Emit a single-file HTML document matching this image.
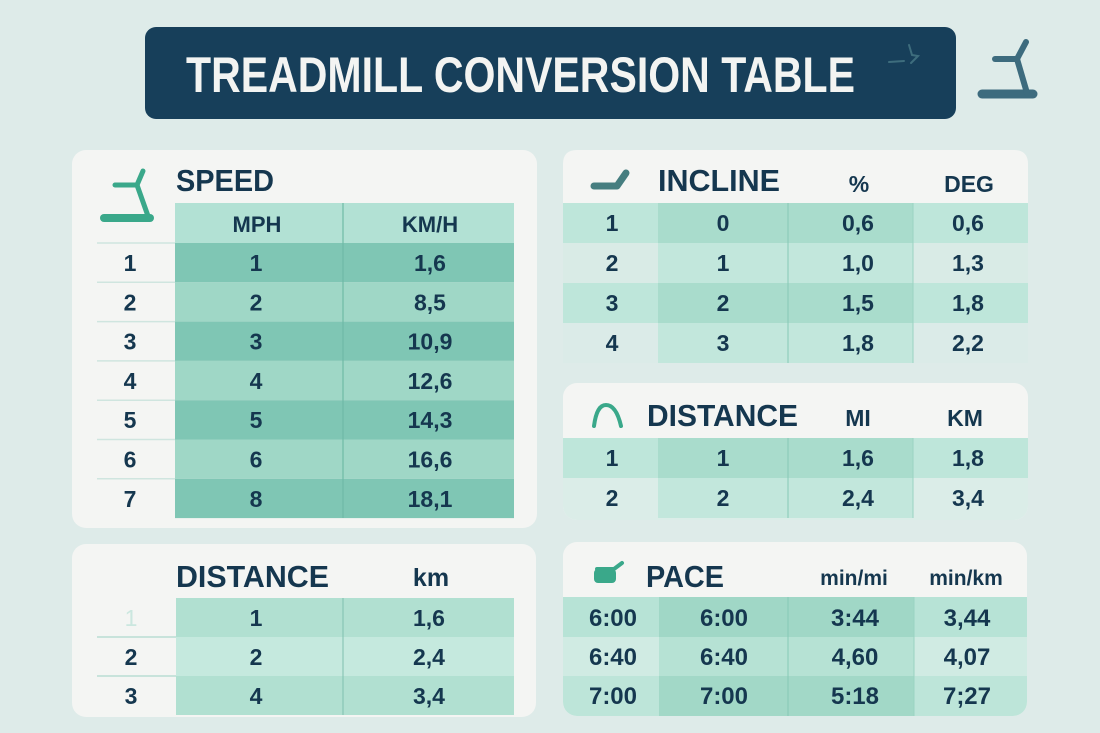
<!DOCTYPE html>
<html><head><meta charset="utf-8"><style>
html,body{margin:0;padding:0;background:#deebe9;}
svg{display:block;}
text{font-family:"Liberation Sans",sans-serif;font-weight:bold;fill:#15374f;}
.c{text-anchor:middle;}
.d{font-size:23px;}
</style></head><body>
<svg width="1100" height="733" viewBox="0 0 1100 733" xmlns="http://www.w3.org/2000/svg">
<defs>
<clipPath id="cpDist"><rect x="563" y="383" width="465" height="137" rx="14"/></clipPath>
<clipPath id="cpPace"><rect x="563" y="542" width="464" height="174" rx="14"/></clipPath>
</defs>
<rect width="1100" height="733" fill="#deebe9"/>

<!-- Title banner -->
<rect x="145" y="27" width="811" height="92" rx="11" fill="#173f5a"/>
<text x="186" y="92" font-size="50" textLength="669" lengthAdjust="spacingAndGlyphs" style="fill:#f3f4f2">TREADMILL CONVERSION TABLE</text>
<g stroke="#3e6d7d" stroke-width="2" fill="none" stroke-linecap="round">
<line x1="889" y1="62" x2="904" y2="61"/>
<path d="M909 45 L912 55 L918 56 L911 63"/>
</g>
<g stroke="#3d6b7e" stroke-width="6" fill="none" stroke-linecap="round">
<line x1="982" y1="94" x2="1033" y2="94" stroke-width="9"/>
<line x1="1017" y1="59" x2="1027" y2="93"/>
<line x1="995" y1="59" x2="1017" y2="59"/>
<line x1="1017" y1="59" x2="1026" y2="42"/>
</g>

<!-- SPEED card -->
<rect x="72" y="150" width="465" height="378" rx="14" fill="#f4f5f3"/>
<g stroke="#3aa88a" stroke-width="5" fill="none" stroke-linecap="round">
<line x1="104" y1="218" x2="150" y2="218" stroke-width="8"/>
<line x1="137" y1="185" x2="148" y2="216"/>
<line x1="115" y1="185" x2="137" y2="185"/>
<line x1="137" y1="185" x2="143" y2="171"/>
</g>
<text x="176" y="191" font-size="31" textLength="98" lengthAdjust="spacingAndGlyphs">SPEED</text>
<rect x="175" y="203" width="339" height="40" fill="#b2e1d4"/>
<rect x="175" y="243" width="339" height="39.3" fill="#7fc6b4"/>
<rect x="175" y="282.3" width="339" height="39.3" fill="#9fd7c6"/>
<rect x="175" y="321.6" width="339" height="39.3" fill="#7fc6b4"/>
<rect x="175" y="360.9" width="339" height="39.3" fill="#9fd7c6"/>
<rect x="175" y="400.2" width="339" height="39.3" fill="#7fc6b4"/>
<rect x="175" y="439.5" width="339" height="39.3" fill="#9fd7c6"/>
<rect x="175" y="478.8" width="339" height="39.3" fill="#7fc6b4"/>
<line x1="343" y1="203" x2="343" y2="518" stroke="#6fbaa6" stroke-width="1.2"/>
<g stroke="#cfe5df" stroke-width="1.5">
<line x1="97" y1="243" x2="175" y2="243"/>
<line x1="97" y1="282.3" x2="175" y2="282.3"/>
<line x1="97" y1="321.6" x2="175" y2="321.6"/>
<line x1="97" y1="360.9" x2="175" y2="360.9"/>
<line x1="97" y1="400.2" x2="175" y2="400.2"/>
<line x1="97" y1="439.5" x2="175" y2="439.5"/>
<line x1="97" y1="478.8" x2="175" y2="478.8"/>
</g>
<text class="c" x="257" y="232" font-size="22">MPH</text>
<text class="c" x="430" y="232" font-size="22">KM/H</text>
<text class="c d" x="130" y="271">1</text><text class="c d" x="256" y="271">1</text><text class="c d" x="430" y="271">1,6</text>
<text class="c d" x="130" y="310.3">2</text><text class="c d" x="256" y="310.3">2</text><text class="c d" x="430" y="310.3">8,5</text>
<text class="c d" x="130" y="349.6">3</text><text class="c d" x="256" y="349.6">3</text><text class="c d" x="430" y="349.6">10,9</text>
<text class="c d" x="130" y="388.9">4</text><text class="c d" x="256" y="388.9">4</text><text class="c d" x="430" y="388.9">12,6</text>
<text class="c d" x="130" y="428.2">5</text><text class="c d" x="256" y="428.2">5</text><text class="c d" x="430" y="428.2">14,3</text>
<text class="c d" x="130" y="467.5">6</text><text class="c d" x="256" y="467.5">6</text><text class="c d" x="430" y="467.5">16,6</text>
<text class="c d" x="130" y="506.8">7</text><text class="c d" x="256" y="506.8">8</text><text class="c d" x="430" y="506.8">18,1</text>

<!-- INCLINE card -->
<path d="M563 203 L563 164 Q563 150 577 150 L1014 150 Q1028 150 1028 164 L1028 203 Z" fill="#f4f5f3"/>
<g stroke="#467e80" stroke-width="7" fill="none" stroke-linecap="round" stroke-linejoin="round">
<path d="M594 186 L617 186 L626 173"/>
</g>
<text x="658" y="191" font-size="31" textLength="122" lengthAdjust="spacingAndGlyphs">INCLINE</text>
<text class="c" x="859" y="192" font-size="23">%</text>
<text class="c" x="969" y="192" font-size="23">DEG</text>
<rect x="563" y="203" width="465" height="40" fill="#bee6da"/>
<rect x="658" y="203" width="255" height="40" fill="#a9dccc"/>
<rect x="563" y="243" width="465" height="40" fill="#d9ebe6"/>
<rect x="658" y="243" width="255" height="40" fill="#c2e7dc"/>
<rect x="563" y="283" width="465" height="40" fill="#bee6da"/>
<rect x="658" y="283" width="255" height="40" fill="#a9dccc"/>
<rect x="563" y="323" width="465" height="40" fill="#dbebe8"/>
<rect x="658" y="323" width="255" height="40" fill="#c2e7dc"/>
<line x1="788" y1="203" x2="788" y2="363" stroke="#86c9b6" stroke-width="1"/>
<line x1="913" y1="203" x2="913" y2="363" stroke="#9ad3c2" stroke-width="1"/>
<text class="c d" x="612" y="231">1</text><text class="c d" x="723" y="231">0</text><text class="c d" x="858" y="231">0,6</text><text class="c d" x="968" y="231">0,6</text>
<text class="c d" x="612" y="271">2</text><text class="c d" x="723" y="271">1</text><text class="c d" x="858" y="271">1,0</text><text class="c d" x="968" y="271">1,3</text>
<text class="c d" x="612" y="311">3</text><text class="c d" x="723" y="311">2</text><text class="c d" x="858" y="311">1,5</text><text class="c d" x="968" y="311">1,8</text>
<text class="c d" x="612" y="351">4</text><text class="c d" x="723" y="351">3</text><text class="c d" x="858" y="351">1,8</text><text class="c d" x="968" y="351">2,2</text>

<!-- DISTANCE (right) card -->
<g clip-path="url(#cpDist)">
<rect x="563" y="383" width="465" height="137" fill="#f4f5f3"/>
<rect x="563" y="438" width="465" height="40" fill="#bee6da"/>
<rect x="658" y="438" width="255" height="40" fill="#a9dccc"/>
<rect x="563" y="478" width="465" height="42" fill="#dbede8"/>
<rect x="658" y="478" width="255" height="40" fill="#c2e7dc"/>
</g>
<line x1="788" y1="438" x2="788" y2="518" stroke="#86c9b6" stroke-width="1"/>
<line x1="913" y1="438" x2="913" y2="518" stroke="#9ad3c2" stroke-width="1"/>
<path d="M594 426 C596 411 600 405 606 405 C613 405 618 413 621 426" stroke="#3aa88a" stroke-width="4" fill="none" stroke-linecap="round"/>
<text x="647" y="426" font-size="31" textLength="151" lengthAdjust="spacingAndGlyphs">DISTANCE</text>
<text class="c" x="858" y="426" font-size="23">MI</text>
<text class="c" x="965" y="426" font-size="23">KM</text>
<text class="c d" x="612" y="466">1</text><text class="c d" x="723" y="466">1</text><text class="c d" x="858" y="466">1,6</text><text class="c d" x="968" y="466">1,8</text>
<text class="c d" x="612" y="506">2</text><text class="c d" x="723" y="506">2</text><text class="c d" x="858" y="506">2,4</text><text class="c d" x="968" y="506">3,4</text>

<!-- DISTANCE (bottom-left) card -->
<rect x="72" y="544" width="464" height="173" rx="14" fill="#f4f5f3"/>
<text x="176" y="587" font-size="31" textLength="153" lengthAdjust="spacingAndGlyphs">DISTANCE</text>
<text class="c" x="431" y="586" font-size="25">km</text>
<rect x="176" y="598" width="338" height="39" fill="#b1e0d1"/>
<rect x="176" y="637" width="338" height="39" fill="#c5e9de"/>
<rect x="176" y="676" width="338" height="39" fill="#b1e0d1"/>
<line x1="343" y1="598" x2="343" y2="715" stroke="#7fbfae" stroke-width="1"/>
<g stroke="#b9ddd3" stroke-width="1.5">
<line x1="97" y1="637" x2="176" y2="637"/>
<line x1="97" y1="676" x2="176" y2="676"/>
</g>
<text class="c d" x="131" y="626" style="fill:#cbe7df;font-weight:normal">1</text><text class="c d" x="256" y="626">1</text><text class="c d" x="429" y="626">1,6</text>
<text class="c d" x="131" y="665">2</text><text class="c d" x="256" y="665">2</text><text class="c d" x="429" y="665">2,4</text>
<text class="c d" x="131" y="704">3</text><text class="c d" x="256" y="704">4</text><text class="c d" x="429" y="704">3,4</text>

<!-- PACE card -->
<g clip-path="url(#cpPace)">
<rect x="563" y="542" width="464" height="174" fill="#f4f5f3"/>
<rect x="563" y="597" width="464" height="40" fill="#b7e3d6"/>
<rect x="659" y="597" width="255" height="40" fill="#a0d7c6"/>
<rect x="563" y="637" width="464" height="39" fill="#d0ebe3"/>
<rect x="659" y="637" width="255" height="39" fill="#b6e2d4"/>
<rect x="563" y="676" width="464" height="40" fill="#bde5d9"/>
<rect x="659" y="676" width="255" height="40" fill="#a2d8c7"/>
</g>
<line x1="788" y1="597" x2="788" y2="716" stroke="#86c9b6" stroke-width="1"/>
<line x1="914" y1="597" x2="914" y2="716" stroke="#9ad3c2" stroke-width="1"/>
<path d="M597 569 L614 569 L622 563" stroke="#3aa88a" stroke-width="4" fill="none" stroke-linecap="round"/>
<rect x="594" y="569" width="22" height="14" rx="4" fill="#3aa88a"/>
<text x="646" y="587" font-size="31" textLength="78" lengthAdjust="spacingAndGlyphs">PACE</text>
<text class="c" x="854" y="585" font-size="21">min/mi</text>
<text class="c" x="966" y="585" font-size="21">min/km</text>
<text class="c" x="613" y="626" font-size="24">6:00</text><text class="c" x="724" y="626" font-size="24">6:00</text><text class="c" x="855" y="626" font-size="24">3:44</text><text class="c" x="967" y="626" font-size="24">3,44</text>
<text class="c" x="613" y="665" font-size="24">6:40</text><text class="c" x="724" y="665" font-size="24">6:40</text><text class="c" x="855" y="665" font-size="24">4,60</text><text class="c" x="967" y="665" font-size="24">4,07</text>
<text class="c" x="613" y="704" font-size="24">7:00</text><text class="c" x="724" y="704" font-size="24">7:00</text><text class="c" x="855" y="704" font-size="24">5:18</text><text class="c" x="967" y="704" font-size="24">7;27</text>
</svg>
</body></html>
